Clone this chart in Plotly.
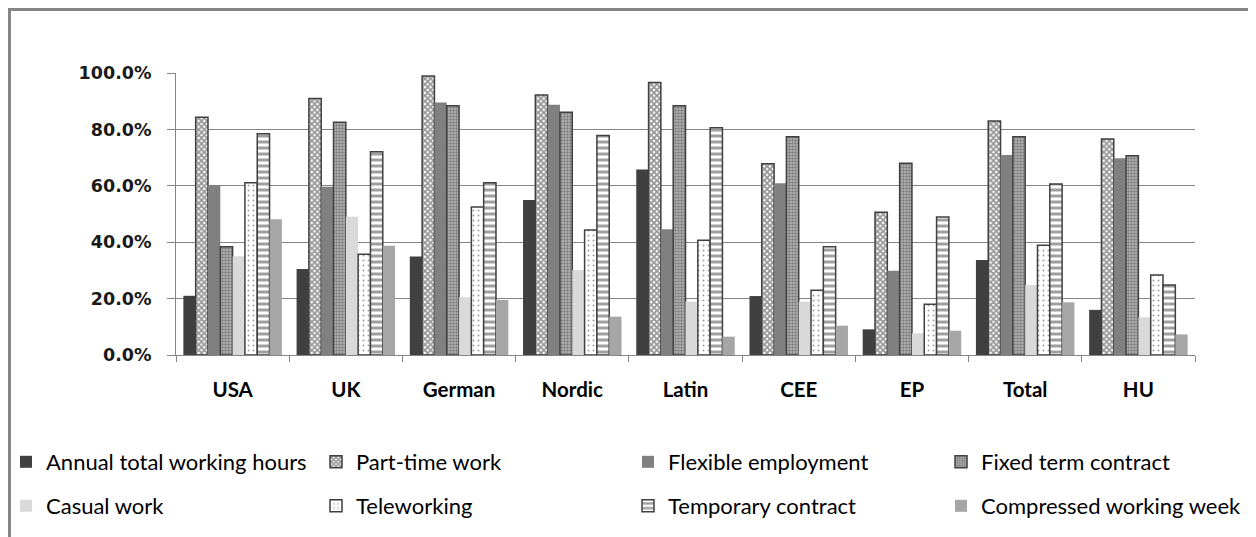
import plotly.graph_objects as go

categories = ["USA", "UK", "German", "Nordic", "Latin", "CEE", "EP", "Total", "HU"]

annual_total_working_hours = [21.0, 30.5, 34.9, 55.0, 65.8, 20.9, 9.1, 33.7, 16.0]
part_time_work = [84.3, 91.0, 98.9, 92.2, 96.6, 67.8, 50.6, 83.0, 76.6]
flexible_employment = [60.3, 59.7, 89.5, 88.7, 44.6, 60.9, 29.9, 70.9, 69.8]
fixed_term_contract = [38.4, 82.5, 88.4, 86.1, 88.4, 77.4, 68.0, 77.4, 70.7]
casual_work = [35.0, 49.0, 20.5, 30.1, 18.9, 18.9, 7.7, 24.8, 13.4]
teleworking = [61.1, 35.7, 52.5, 44.3, 40.7, 23.0, 18.0, 38.9, 28.4]
temporary_contract = [78.5, 72.1, 61.1, 77.8, 80.6, 38.4, 48.9, 60.6, 24.8]
compressed_working_week = [48.1, 38.7, 19.5, 13.6, 6.5, 10.4, 8.6, 18.7, 7.3]

series_names = ["Annual total working hours", "Part-time work", "Flexible employment",
                "Fixed term contract", "Casual work", "Teleworking",
                "Temporary contract", "Compressed working week"]
series_values = [annual_total_working_hours, part_time_work, flexible_employment,
                 fixed_term_contract, casual_work, teleworking,
                 temporary_contract, compressed_working_week]

DARK = "#404040"
styles = [
    dict(color=DARK, line=dict(width=0)),
    dict(color="white", line=dict(color=DARK, width=1.5),
         pattern=dict(shape="x", fgcolor="#303030", bgcolor="white", size=4, solidity=0.7)),
    dict(color="#808080", line=dict(width=0)),
    dict(color="#a0a0a0", line=dict(color=DARK, width=1.5),
         pattern=dict(shape=".", fgcolor=DARK, bgcolor="#b8b8b8", size=3, solidity=0.5)),
    dict(color="#d9d9d9", line=dict(width=0)),
    dict(color="white", line=dict(color=DARK, width=1.5),
         pattern=dict(shape=".", fgcolor=DARK, bgcolor="white", size=5, solidity=0.12)),
    dict(color="white", line=dict(color=DARK, width=1.5),
         pattern=dict(shape="-", fgcolor=DARK, bgcolor="white", size=6, solidity=0.5)),
    dict(color="#a6a6a6", line=dict(width=0)),
]

# page has an 8px body margin; all target positions below are page pixels
OFF = 8
W, H = 1256, 537
L, R, T, B = 176 - OFF, 61 + OFF, 73 - OFF, 182 + OFF
PW, PH = W - L - R, H - T - B

def px_x(px):
    return (px - OFF - L) / PW

def px_y(py):
    return (H - B - (py - OFF)) / PH

legend_text_x = [47, 357, 669, 982, 47, 357, 669, 982]
legend_row_y = [462, 462, 462, 462, 506, 506, 506, 506]

fig = go.Figure()
legend_layouts = {}
for i, (name, vals, st) in enumerate(zip(series_names, series_values, styles)):
    lname = "legend" if i == 0 else f"legend{i+1}"
    fig.add_trace(go.Bar(name=name, x=categories, y=vals, marker=st, legend=lname))
    legend_layouts[lname] = dict(
        xref="paper", yref="paper",
        x=px_x(legend_text_x[i] - 41), y=px_y(legend_row_y[i]),
        xanchor="left", yanchor="middle", bgcolor="rgba(0,0,0,0)",
        font=dict(family="Lato", size=22, color="#000000"),
    )

fig.update_layout(
    width=W, height=H,
    margin=dict(l=L, r=R, t=T, b=B, autoexpand=False),
    paper_bgcolor="white", plot_bgcolor="white",
    barmode="group", bargap=0.13, bargroupgap=0.0,
    showlegend=True,
    **legend_layouts,
    xaxis=dict(
        showline=True, linecolor="#868686", linewidth=1,
        ticks="outside", tickson="boundaries", ticklen=6, tickcolor="#868686",
        tickfont=dict(family="Lato", size=20.5, color="#000000", weight="bold"),
        showgrid=False, ticklabelstandoff=16,
    ),
    yaxis=dict(
        range=[0, 100], dtick=20, tickformat=".1f", ticksuffix="%",
        showline=True, linecolor="#868686", linewidth=1,
        ticks="outside", ticklen=8, tickcolor="#868686",
        gridcolor="#868686", gridwidth=1,
        tickfont=dict(family="DejaVu Sans", size=17.5, color="#1a1a1a", weight="bold"),
        ticklabelstandoff=12, zeroline=False,
    ),
    shapes=[dict(type="rect", xref="paper", yref="paper",
                 x0=px_x(9.5), x1=px_x(1252), y0=px_y(650), y1=px_y(9.5),
                 line=dict(color="#868686", width=3), fillcolor="rgba(0,0,0,0)",
                 layer="below")],
)

fig.write_html("out.html")
